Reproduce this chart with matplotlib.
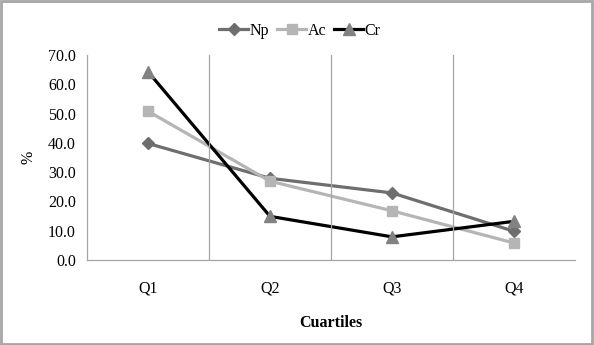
import numpy as np
import matplotlib.pyplot as plt
from matplotlib.patches import Rectangle

# Dados
categorias = ["Q1", "Q2", "Q3", "Q4"]
np_vals = [39.8, 27.9, 22.9, 9.8]
ac_vals = [50.8, 26.9, 16.8, 5.8]
cr_vals = [64.3, 14.9, 7.9, 13.2]
yticks = [0, 10, 20, 30, 40, 50, 60, 70]

plt.rcParams['font.family'] = ['Liberation Serif', 'DejaVu Serif']

fig = plt.figure(figsize=(5.94, 3.45), dpi=100)
ax = fig.add_axes([0.1465, 0.2464, 0.8215, 0.5942])

x = np.arange(len(categorias))
ax.plot(x, np_vals, color='#6e6e6e', lw=2.3, marker='D', ms=6.5, label='Np')
ax.plot(x, ac_vals, color='#b5b5b5', lw=2.3, marker='s', ms=7.5, label='Ac')
ax.plot(x, cr_vals, color='black', lw=2.3, marker='^', ms=8,
        markerfacecolor='#828282', markeredgecolor='#828282', label='Cr')

ax.set_xlim(-0.5, 3.5)
ax.set_ylim(0, 70)
ax.set_yticks(yticks)
ax.set_yticklabels([f"{v:.1f}" for v in yticks], fontsize=11.5)
ax.set_xticks(x)
ax.set_xticklabels(categorias, fontsize=11.5)
ax.tick_params(length=0, pad=8)
ax.tick_params(axis='x', pad=15)

# linhas verticais entre categorias
for b in [0.5, 1.5, 2.5]:
    ax.axvline(b, color='#a6a6a6', lw=0.9)

for s in ['top', 'right']:
    ax.spines[s].set_visible(False)
for s in ['left', 'bottom']:
    ax.spines[s].set_color('#a6a6a6')
    ax.spines[s].set_linewidth(0.9)

ax.set_ylabel('%', fontsize=11.5, labelpad=8)
ax.set_xlabel('Cuartiles', fontsize=11.5, fontweight='bold', labelpad=13)

fig.legend(loc='upper center', bbox_to_anchor=(0.505, 0.975), ncol=3, frameon=False,
           fontsize=11.5, handlelength=1.8, handletextpad=0.1, columnspacing=0.5)

# borda da figura
fig.patches.append(Rectangle((0.002, 0.003), 0.995, 0.993, transform=fig.transFigure,
                             fill=False, edgecolor='#a6a6a6', lw=2))

plt.savefig('out.png', dpi=100)
